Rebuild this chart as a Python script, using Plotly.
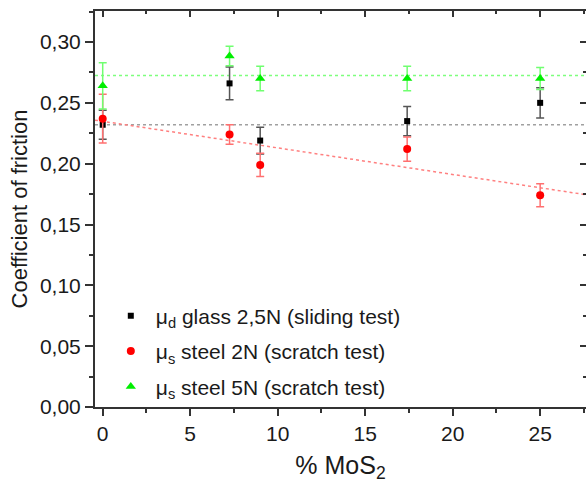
import numpy as np
import plotly.graph_objects as go

# ---- data ----
mos2_pct = [0, 7.25, 9, 17.4, 25]
glass_mu_d = [0.232, 0.266, 0.219, 0.235, 0.250]
glass_err = [0.012, 0.0135, 0.011, 0.012, 0.0125]
steel2_mu_s = [0.237, 0.224, 0.199, 0.212, 0.174]
steel2_err = [0.020, 0.008, 0.0095, 0.010, 0.0095]
steel5_mu_s = [0.264, 0.2885, 0.270, 0.270, 0.270]
steel5_err = [0.019, 0.008, 0.010, 0.010, 0.009]

names = ["μ<sub>d</sub> glass 2,5N (sliding test)",
         "μ<sub>s</sub> steel 2N (scratch test)",
         "μ<sub>s</sub> steel 5N (scratch test)"]

x_range = [-0.44, 27.62]
y_range = [0, 0.3255]

FONT = "Liberation Sans, Arial, sans-serif"

fig = go.Figure()

# reference / fit lines
glass_level = glass_mu_d[0]
steel5_level = float(np.mean(steel5_mu_s))
slope, intercept = np.polyfit(mos2_pct, steel2_mu_s, 1)
xr = np.array(x_range)

fig.add_trace(go.Scatter(x=xr, y=[steel5_level] * 2, mode="lines",
                         line=dict(color="#7dff7d", width=1.5, dash="dot"),
                         showlegend=False, hoverinfo="skip"))
fig.add_trace(go.Scatter(x=xr, y=[glass_level] * 2, mode="lines",
                         line=dict(color="#a0a0a0", width=1.5, dash="dot"),
                         showlegend=False, hoverinfo="skip"))
fig.add_trace(go.Scatter(x=xr, y=intercept + slope * xr, mode="lines",
                         line=dict(color="#ff8080", width=1.5, dash="dot"),
                         showlegend=False, hoverinfo="skip"))

# data series
fig.add_trace(go.Scatter(
    x=mos2_pct, y=glass_mu_d, mode="markers", name=names[0], legendgroup="a",
    marker=dict(symbol="square", size=6, color="black"),
    error_y=dict(type="data", array=glass_err, color="#555555", thickness=1.5, width=4)))
fig.add_trace(go.Scatter(
    x=mos2_pct, y=steel2_mu_s, mode="markers", name=names[1], legendgroup="b",
    marker=dict(symbol="circle", size=8, color="#ff0000"),
    error_y=dict(type="data", array=steel2_err, color="#ff7070", thickness=1.5, width=4)))
fig.add_trace(go.Scatter(
    x=mos2_pct, y=steel5_mu_s, mode="markers", name=names[2], legendgroup="c",
    marker=dict(symbol="triangle-up", size=9, color="#00ee00"),
    error_y=dict(type="data", array=steel5_err, color="#70ff70", thickness=1.5, width=4)))

# invisible helper traces for top/right mirrored axes
fig.add_trace(go.Scatter(x=x_range, y=y_range, xaxis="x2", yaxis="y2", mode="markers",
                         marker=dict(opacity=0), showlegend=False, hoverinfo="skip"))

axis_common = dict(showgrid=False, zeroline=False, linecolor="#333333",
                   linewidth=2, tickcolor="#333333", tickwidth=1.5)

fig.update_layout(
    width=586, height=486,
    margin=dict(l=95, r=0, t=11, b=79),
    paper_bgcolor="white", plot_bgcolor="white",
    separators=", ",
    font=dict(family=FONT, size=21, color="#1a1a1a"),
    xaxis=dict(range=x_range, dtick=5, tick0=0, ticks="outside", ticklen=7, showline=True,
               minor=dict(dtick=2.5, ticks="outside", ticklen=4, tickcolor="#333333", tickwidth=1.5),
               title=dict(text="% MoS<sub>2</sub>", standoff=12), **axis_common),
    yaxis=dict(range=y_range, dtick=0.05, tick0=0, tickformat=".2f", ticks="outside", ticklen=8,
               showline=True,
               minor=dict(dtick=0.025, ticks="outside", ticklen=4, tickcolor="#333333", tickwidth=1.5),
               title=dict(text="Coefficient of friction", standoff=6, font=dict(size=22)),
               **axis_common),
    xaxis2=dict(range=x_range, overlaying="x", side="top", anchor="y2", dtick=5, tick0=0,
                ticks="inside", ticklen=6, showticklabels=False, showline=True,
                minor=dict(dtick=2.5, ticks="inside", ticklen=3, tickcolor="#333333", tickwidth=1.5),
                **axis_common),
    yaxis2=dict(range=y_range, overlaying="y", side="right", anchor="x2", dtick=0.05, tick0=0,
                ticks="inside", ticklen=6, showticklabels=False, showline=False,
                minor=dict(dtick=0.025, ticks="inside", ticklen=3, tickcolor="#333333", tickwidth=1.5),
                **axis_common),
    legend=dict(x=0.022, y=0.141, xanchor="left", yanchor="middle", bgcolor="rgba(0,0,0,0)",
                font=dict(family=FONT, size=21, color="#1a1a1a"),
                itemwidth=40, tracegroupgap=5),
    showlegend=True,
)

fig.write_html("out.html")
